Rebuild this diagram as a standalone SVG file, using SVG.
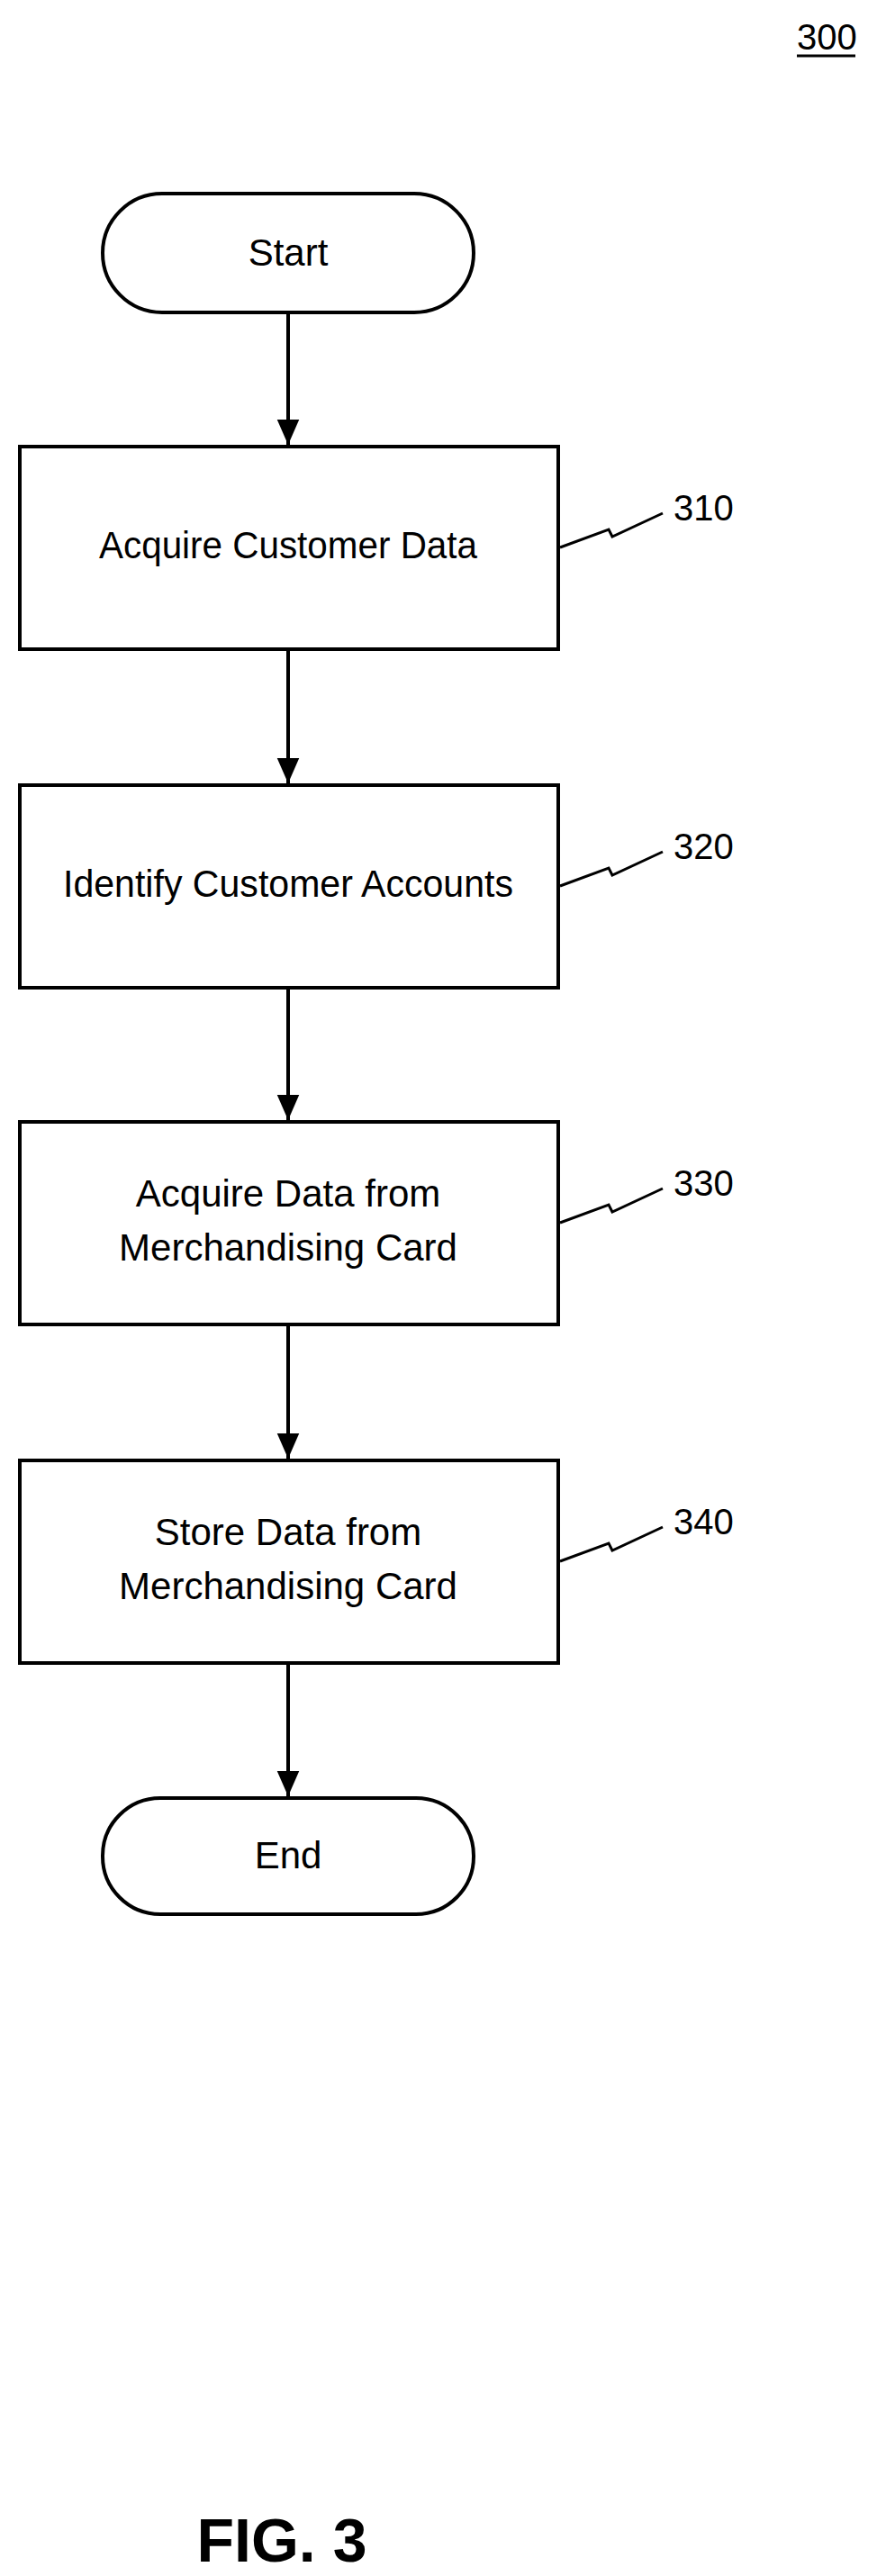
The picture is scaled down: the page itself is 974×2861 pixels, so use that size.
<svg xmlns="http://www.w3.org/2000/svg" width="974" height="2861" viewBox="0 0 974 2861">
<style>
.s{fill:#fff;stroke:#000;stroke-width:4}
.t{font-family:"Liberation Sans",Arial,sans-serif;font-size:42px;text-anchor:middle;fill:#000}
.l{font-family:"Liberation Sans",Arial,sans-serif;font-size:40px;fill:#000}
.c{fill:none;stroke:#000;stroke-width:4}
.z{fill:none;stroke:#000;stroke-width:3}
</style>
<defs><marker id="a" markerWidth="28" markerHeight="32" refX="32" refY="14" orient="auto" markerUnits="userSpaceOnUse" viewBox="0 0 32 28"><path d="M0,0L32,14L0,28z"/></marker></defs>
<rect width="974" height="2861" fill="#fff"/>
<text class="l" x="885" y="55">300</text>
<line x1="885" y1="62" x2="950" y2="62" stroke="#000" stroke-width="3"/>
<g id="connectors">
<line class="c" x1="320" y1="347" x2="320" y2="494" marker-end="url(#a)"/>
<line class="c" x1="320" y1="721" x2="320" y2="870" marker-end="url(#a)"/>
<line class="c" x1="320" y1="1097" x2="320" y2="1244" marker-end="url(#a)"/>
<line class="c" x1="320" y1="1471" x2="320" y2="1620" marker-end="url(#a)"/>
<line class="c" x1="320" y1="1847" x2="320" y2="1995" marker-end="url(#a)"/>
</g>
<g id="start"><rect class="s" x="114" y="215" width="412" height="132" rx="66"/><text class="t" x="320" y="295">Start</text></g>
<g id="n310"><rect class="s" x="22" y="496" width="598" height="225"/><text class="t" x="320" y="620" textLength="420" lengthAdjust="spacingAndGlyphs">Acquire Customer Data</text>
<path class="z" d="M622,608L676,588L680,596L736,570"/><text class="l" x="748" y="578">310</text></g>
<g id="n320"><rect class="s" x="22" y="872" width="598" height="225"/><text class="t" x="320" y="996" textLength="500" lengthAdjust="spacingAndGlyphs">Identify Customer Accounts</text>
<path class="z" d="M622,984L676,964L680,972L736,946"/><text class="l" x="748" y="954">320</text></g>
<g id="n330"><rect class="s" x="22" y="1246" width="598" height="225"/><text class="t" x="320" y="1340">Acquire Data from</text><text class="t" x="320" y="1400">Merchandising Card</text>
<path class="z" d="M622,1358L676,1338L680,1346L736,1320"/><text class="l" x="748" y="1328">330</text></g>
<g id="n340"><rect class="s" x="22" y="1622" width="598" height="225"/><text class="t" x="320" y="1716">Store Data from</text><text class="t" x="320" y="1776">Merchandising Card</text>
<path class="z" d="M622,1734L676,1714L680,1722L736,1696"/><text class="l" x="748" y="1704">340</text></g>
<g id="end"><rect class="s" x="114" y="1997" width="412" height="129" rx="64"/><text class="t" x="320" y="2075">End</text></g>
<text x="313" y="2845" font-family="Liberation Sans,Arial,sans-serif" font-size="68" font-weight="bold" text-anchor="middle">FIG. 3</text>
</svg>
